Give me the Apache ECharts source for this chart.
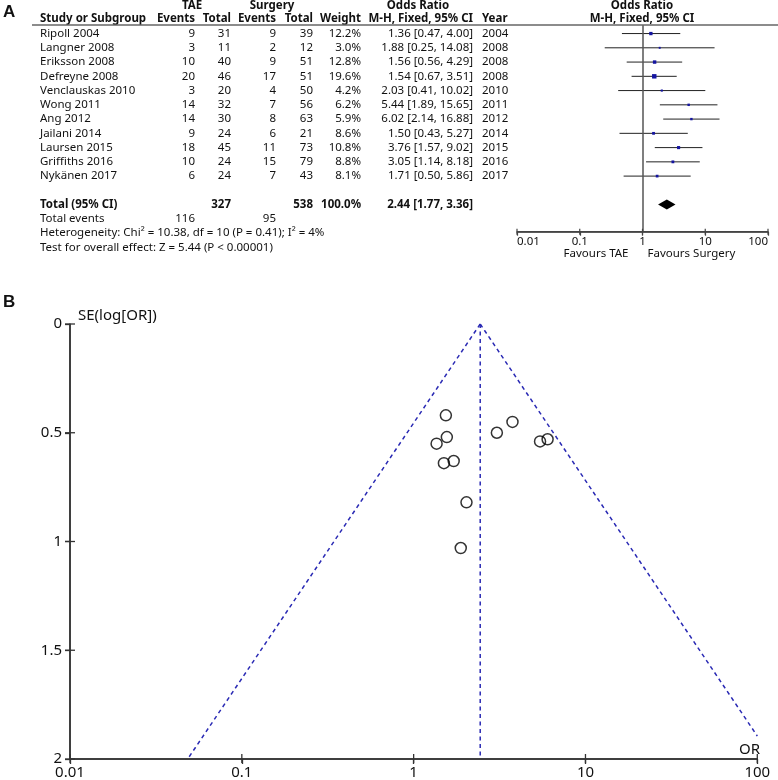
<!DOCTYPE html>
<html><head><meta charset="utf-8">
<script src="https://cdn.jsdelivr.net/npm/echarts@6/dist/echarts.min.js"></script>
<style>html,body{margin:0;padding:0;background:#fff}#c{width:778px;height:780px}</style>
</head><body><div id="c"></div>
<script>
// ---------- data ----------
const studies = ['Ripoll 2004','Langner 2008','Eriksson 2008','Defreyne 2008','Venclauskas 2010','Wong 2011','Ang 2012','Jailani 2014','Laursen 2015','Griffiths 2016','Nykänen 2017'];
const taeEvents = [9,3,10,20,3,14,14,9,18,10,6];
const taeTotal = [31,11,40,46,20,32,30,24,45,24,24];
const surgEvents = [9,2,9,17,4,7,8,6,11,15,7];
const surgTotal = [39,12,51,51,50,56,63,21,73,79,43];
const weights = [12.2,3.0,12.8,19.6,4.2,6.2,5.9,8.6,10.8,8.8,8.1];
const oddsRatio = [1.36,1.88,1.56,1.54,2.03,5.44,6.02,1.50,3.76,3.05,1.71];
const ciLow = [0.47,0.25,0.56,0.67,0.41,1.89,2.14,0.43,1.57,1.14,0.50];
const ciHigh = [4.00,14.08,4.29,3.51,10.02,15.65,16.88,5.27,9.02,8.18,5.86];
const years = [2004,2008,2008,2008,2010,2011,2012,2014,2015,2016,2017];
const seLogOR = [0.55,1.03,0.52,0.42,0.82,0.54,0.53,0.64,0.45,0.50,0.63];
const totalTae = 327, totalSurg = 538, totalEvTae = 116, totalEvSurg = 95;
const pooledOR = 2.44, pooledLow = 1.77, pooledHigh = 3.36;
const tickValues = [0.01,0.1,1,10,100];
const tickLabels = ['0.01','0.1','1','10','100'];
const seValues = [0,0.5,1,1.5,2];
const seTicks = ['0','0.5','1','1.5','2'];

// ---------- style ----------
const FONT = '"Noto Sans", sans-serif';
const TXT = '#111';
const SQ = '#1414a0';
const FUN = '#2a2ab4';
const AX = '#444';
const AX2 = '#333';

const tickFmt = v => {
  const i = tickValues.findIndex(t => Math.abs(Math.log10(t) - Math.log10(v)) < 1e-6);
  return i >= 0 ? tickLabels[i] : '';
};

const chart = echarts.init(document.getElementById('c'));

chart.setOption({
  animation: false,
  backgroundColor: '#fff',
  grid: [
    {left: 517, right: 10, top: 25, height: 206.7},
    {left: 70, right: 20.7, top: 324, height: 437.7}
  ],
  xAxis: [
    {type: 'log', logBase: 10, min: 0.01, max: 100, gridIndex: 0, position: 'bottom',
     axisLine: {show: true, onZero: false, lineStyle: {color: AX, width: 1.5}},
     axisTick: {show: true, length: 4, lineStyle: {color: AX, width: 1.2}},
     axisLabel: {formatter: tickFmt, margin: 4, color: TXT, fontFamily: FONT, fontSize: 11.5,
                 alignMinLabel: 'left', alignMaxLabel: 'right'},
     splitLine: {show: false}, minorTick: {show: false}},
    {type: 'log', logBase: 10, min: 0.01, max: 100, gridIndex: 1, position: 'bottom',
     axisLine: {show: true, onZero: false, lineStyle: {color: AX2, width: 1.5}},
     axisTick: {show: true, length: 5, lineStyle: {color: AX2, width: 1.3}},
     axisLabel: {formatter: tickFmt, margin: 6, color: TXT, fontFamily: FONT, fontSize: 15},
     splitLine: {show: false}}
  ],
  yAxis: [
    {type: 'value', gridIndex: 0, min: -0.6, max: 13.9, inverse: true, show: false},
    {type: 'value', gridIndex: 1, min: 0, max: 2, interval: 0.5, inverse: true, position: 'left',
     axisLine: {show: true, onZero: false, lineStyle: {color: AX2, width: 1.5}},
     axisTick: {show: true, length: 5, lineStyle: {color: AX2, width: 1.3}},
     axisLabel: {formatter: v => seTicks[Math.round(v * 2)], margin: 8, color: TXT, fontFamily: FONT, fontSize: 15},
     splitLine: {show: false}}
  ],
  series: [
    {type: 'custom', xAxisIndex: 0, yAxisIndex: 0,
     data: oddsRatio.map((v, i) => [v, i, ciLow[i], ciHigh[i], weights[i]]),
     encode: {x: 0, y: 1},
     renderItem: (params, api) => {
       const y = api.value(1);
       const p0 = api.coord([api.value(2), y]);
       const p1 = api.coord([api.value(3), y]);
       const c = api.coord([api.value(0), y]);
       const s = 1.5 + api.value(4) * 0.15;
       return {type: 'group', children: [
         {type: 'line', shape: {x1: p0[0], y1: p0[1], x2: p1[0], y2: p1[1]}, style: {stroke: '#222', lineWidth: 1}},
         {type: 'rect', shape: {x: c[0] - s / 2, y: c[1] - s / 2, width: s, height: s}, style: {fill: SQ}}
       ]};
     },
     markLine: {silent: true, symbol: 'none', label: {show: false},
       lineStyle: {color: '#555', width: 1.5, type: 'solid'}, data: [{xAxis: 1}]}
    },
    {type: 'custom', xAxisIndex: 0, yAxisIndex: 0,
     data: [[pooledOR, studies.length + 1, pooledLow, pooledHigh]],
     encode: {x: 0, y: 1},
     renderItem: (params, api) => {
       const y = api.value(1);
       const l = api.coord([api.value(2), y]);
       const r = api.coord([api.value(3), y]);
       const c = api.coord([api.value(0), y]);
       return {type: 'polygon', shape: {points: [[l[0], l[1]], [c[0], c[1] - 5], [r[0], r[1]], [c[0], c[1] + 5]]},
               style: {fill: '#000'}};
     }
    },
    {type: 'line', xAxisIndex: 1, yAxisIndex: 1, symbol: 'none', clip: true,
     data: [[pooledOR, 0], [pooledOR, 2]],
     lineStyle: {color: FUN, width: 1.5, type: [4, 3.5]}},
    {type: 'line', xAxisIndex: 1, yAxisIndex: 1, symbol: 'none', clip: true,
     data: [[pooledOR, 0], [pooledOR * Math.exp(-1.96 * 2), 2]],
     lineStyle: {color: FUN, width: 1.5, type: [4, 3.5]}},
    {type: 'line', xAxisIndex: 1, yAxisIndex: 1, symbol: 'none', clip: true,
     data: [[pooledOR, 0], [100, Math.log(100 / pooledOR) / 1.96]],
     lineStyle: {color: FUN, width: 1.5, type: [4, 3.5]}},
    {type: 'scatter', xAxisIndex: 1, yAxisIndex: 1, symbol: 'circle', symbolSize: 11,
     data: oddsRatio.map((v, i) => [v, seLogOR[i]]),
     itemStyle: {color: 'rgba(0,0,0,0)', borderColor: '#000', borderWidth: 1.5}}
  ]
});

// ---------- text & axis overlays ----------
const rowY = i => chart.convertToPixel({yAxisIndex: 0}, i);
const g = [];
const T = (x, y, text, align, bold, size, fam) => g.push({type: 'text', x: x, y: y, silent: true,
  style: {text: text, align: align, verticalAlign: 'middle', fill: TXT,
          fontFamily: fam || FONT, fontSize: size || 11.5, fontWeight: bold ? 'bold' : 'normal'}});
const L = (x1, y1, x2, y2, color, w) => g.push({type: 'line', silent: true, z: 10,
  shape: {x1: x1, y1: y1, x2: x2, y2: y2}, style: {stroke: color, lineWidth: w}});

T(3, 12, 'A', 'left', true, 17, '"Liberation Sans", Arial, sans-serif');
T(3, 302, 'B', 'left', true, 17, '"Liberation Sans", Arial, sans-serif');

// headers
T(192, 6, 'TAE', 'center', true);
T(272, 6, 'Surgery', 'center', true);
T(418, 6, 'Odds Ratio', 'center', true);
T(642, 6, 'Odds Ratio', 'center', true);
T(40, 19, 'Study or Subgroup', 'left', true);
T(195, 19, 'Events', 'right', true);
T(231, 19, 'Total', 'right', true);
T(276, 19, 'Events', 'right', true);
T(313, 19, 'Total', 'right', true);
T(361, 19, 'Weight', 'right', true);
T(473, 19, 'M-H, Fixed, 95% CI', 'right', true);
T(482, 19, 'Year', 'left', true);
T(642, 19, 'M-H, Fixed, 95% CI', 'center', true);
L(32, 25, 778, 25, '#666', 1.5);

studies.forEach((s, i) => {
  const y = rowY(i);
  T(40, y, s, 'left');
  T(195, y, String(taeEvents[i]), 'right');
  T(231, y, String(taeTotal[i]), 'right');
  T(276, y, String(surgEvents[i]), 'right');
  T(313, y, String(surgTotal[i]), 'right');
  T(361, y, weights[i].toFixed(1) + '%', 'right');
  T(473, y, oddsRatio[i].toFixed(2) + ' [' + ciLow[i].toFixed(2) + ', ' + ciHigh[i].toFixed(2) + ']', 'right');
  T(482, y, String(years[i]), 'left');
});
const n = studies.length;
let y = rowY(n + 1);
T(40, y, 'Total (95% CI)', 'left', true);
T(231, y, String(totalTae), 'right', true);
T(313, y, String(totalSurg), 'right', true);
T(361, y, '100.0%', 'right', true);
T(473, y, pooledOR.toFixed(2) + ' [' + pooledLow.toFixed(2) + ', ' + pooledHigh.toFixed(2) + ']', 'right', true);
y = rowY(n + 2);
T(40, y, 'Total events', 'left');
T(195, y, String(totalEvTae), 'right');
T(276, y, String(totalEvSurg), 'right');
T(40, rowY(n + 3), 'Heterogeneity: Chi² = 10.38, df = 10 (P = 0.41); I² = 4%', 'left');
T(40, rowY(n + 4), 'Test for overall effect: Z = 5.44 (P < 0.00001)', 'left');

// forest axis: ticks crossing the axis line
const fy = chart.convertToPixel({yAxisIndex: 0}, 13.9);
tickValues.forEach(t => { const x = chart.convertToPixel({xAxisIndex: 0}, t); L(x, fy - 3, x, fy + 3, AX, 1.2); });
L(chart.convertToPixel({xAxisIndex: 0}, 0.01), fy, chart.convertToPixel({xAxisIndex: 0}, 100), fy, AX, 1.5);

const xOne = chart.convertToPixel({xAxisIndex: 0}, 1);
T(xOne - 14, 254, 'Favours TAE', 'right');
T(xOne + 5, 254, 'Favours Surgery', 'left');

// funnel axes (lines + ticks crossing the axis)
const fx0 = chart.convertToPixel({xAxisIndex: 1}, 0.01);
const fx1 = chart.convertToPixel({xAxisIndex: 1}, 100);
const fyTop = chart.convertToPixel({yAxisIndex: 1}, 0);
const fyBot = chart.convertToPixel({yAxisIndex: 1}, 2);
L(fx0, fyTop, fx0, fyBot, AX2, 1.5);
L(fx0, fyBot, fx1, fyBot, AX2, 1.5);
tickValues.forEach(t => { const x = chart.convertToPixel({xAxisIndex: 1}, t); L(x, fyBot - 5, x, fyBot + 4, AX2, 1.3); });
seValues.forEach(v => { const yy = chart.convertToPixel({yAxisIndex: 1}, v); L(fx0 - 5, yy, fx0 + 5, yy, AX2, 1.3); });

T(78, 316, 'SE(log[OR])', 'left', false, 15);
T(760, 750, 'OR', 'right', false, 15);

chart.setOption({graphic: g});
</script></body></html>
